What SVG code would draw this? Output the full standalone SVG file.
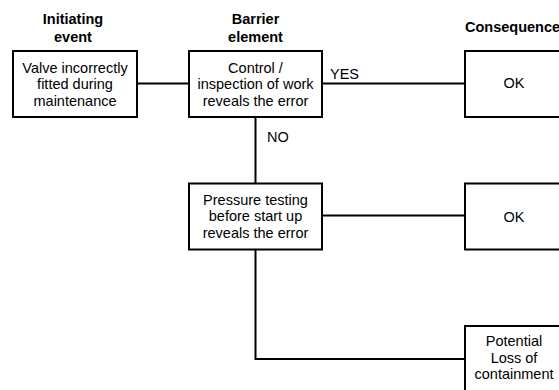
<svg xmlns="http://www.w3.org/2000/svg" width="559" height="390" viewBox="0 0 559 390">
<style>
.box{fill:#fff;stroke:#000;stroke-width:2}
.ln{fill:none;stroke:#000;stroke-width:2}
text{font-family:"Liberation Sans",Arial,sans-serif;font-size:14.5px;fill:#000}
.c{text-anchor:middle}
.h{font-weight:bold;text-anchor:middle}
</style>
<rect width="559" height="390" fill="#fff"/>
<g id="headers">
<text class="h" x="73" y="24">Initiating</text>
<text class="h" x="73" y="42">event</text>
<text class="h" x="255.5" y="24">Barrier</text>
<text class="h" x="255.5" y="42">element</text>
<text style="font-weight:bold" x="465" y="31.5">Consequence</text>
</g>
<g id="connectors">
<line class="ln" x1="137" y1="83.5" x2="189" y2="83.5"/>
<line class="ln" x1="322" y1="83.5" x2="465" y2="83.5"/>
<line class="ln" x1="255.5" y1="117" x2="255.5" y2="183.5"/>
<line class="ln" x1="322" y1="215.5" x2="465" y2="215.5"/>
<polyline class="ln" points="255.5,249.5 255.5,359 465,359"/>
<text x="330" y="78.5">YES</text>
<text x="267" y="141.5">NO</text>
</g>
<g id="n1">
<rect class="box" x="13" y="51" width="124" height="66"/>
<text class="c" x="75" y="72.5">Valve incorrectly</text>
<text class="c" x="75" y="89">fitted during</text>
<text class="c" x="75" y="106">maintenance</text>
</g>
<g id="n2">
<rect class="box" x="189" y="51" width="133" height="66"/>
<text class="c" x="255.5" y="72.5">Control /</text>
<text class="c" x="255.5" y="89">inspection of work</text>
<text class="c" x="255.5" y="106">reveals the error</text>
</g>
<g id="n3">
<rect class="box" x="465" y="51" width="100" height="66"/>
<text class="c" x="514" y="88">OK</text>
</g>
<g id="n4">
<rect class="box" x="189" y="183.5" width="133" height="66"/>
<text class="c" x="255.5" y="204.5">Pressure testing</text>
<text class="c" x="255.5" y="221">before start up</text>
<text class="c" x="255.5" y="237.5">reveals the error</text>
</g>
<g id="n5">
<rect class="box" x="465" y="183.5" width="100" height="66"/>
<text class="c" x="514" y="222">OK</text>
</g>
<g id="n6">
<rect class="box" x="465" y="326" width="100" height="70"/>
<text class="c" x="514" y="346">Potential</text>
<text class="c" x="514" y="362.5">Loss of</text>
<text class="c" x="514" y="379">containment</text>
</g>
</svg>
